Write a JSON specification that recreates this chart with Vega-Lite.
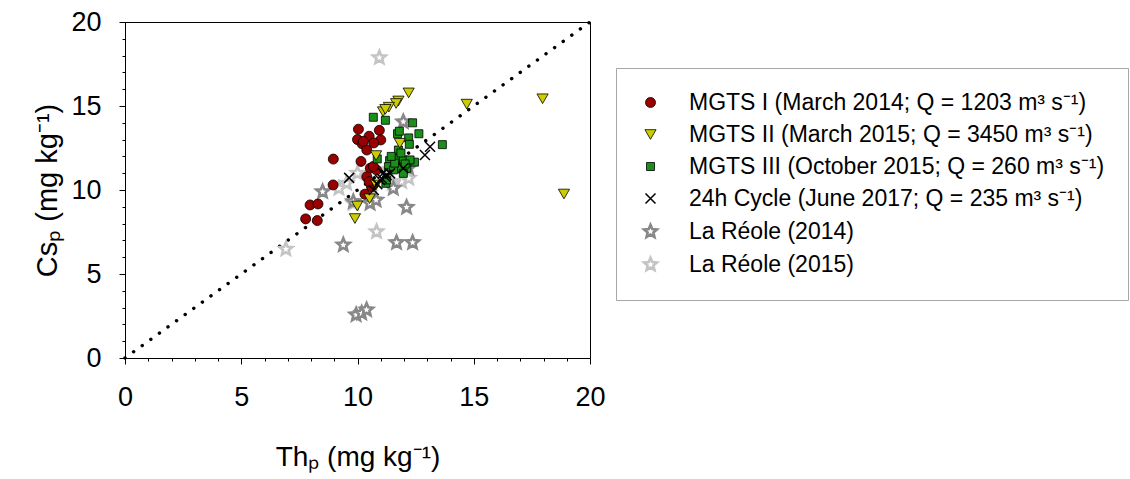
{
  "$schema": "https://vega.github.io/schema/vega-lite/v6.json",
  "width": 465,
  "height": 336,
  "autosize": {"type": "none"},
  "padding": {"left": 125, "top": 22, "right": 540, "bottom": 121},
  "background": "white",
  "config": {
    "view": {"stroke": "#000000", "strokeWidth": 1},
    "font": "Liberation Sans",
    "axis": {"grid": false, "labelFlush": false, "labelOverlap": false, "domainColor": "#000000", "tickColor": "#000000", "labelColor": "#000000", "titleColor": "#000000", "labelFont": "Liberation Sans", "titleFont": "Liberation Sans", "titleFontWeight": "normal"}
  },
  "datasets": {
    "diag": [{"x": 0, "y": 0, "x2": 20, "y2": 20}]
  },
  "resolve": {"axis": {"x": "independent", "y": "independent"}},
  "layer": [
    {
      "data": {"name": "diag"},
      "mark": {"type": "rule", "strokeDash": [0.1, 10.5], "strokeCap": "round", "strokeWidth": 3.4, "color": "#000000"},
      "encoding": {
        "x": {"field": "x", "type": "quantitative", "scale": {"domain": [0, 20], "nice": false, "zero": false},
          "axis": {"orient": "bottom", "values": [0,1,2,3,4,5,6,7,8,9,10,11,12,13,14,15,16,17,18,19,20], "labels": false, "tickSize": 3, "title": null, "domain": false}},
        "y": {"field": "y", "type": "quantitative", "scale": {"domain": [0, 20], "nice": false, "zero": false},
          "axis": {"orient": "left", "values": [0,1,2,3,4,5,6,7,8,9,10,11,12,13,14,15,16,17,18,19,20], "labels": false, "tickSize": 3, "title": null, "domain": false}},
        "x2": {"field": "x2"},
        "y2": {"field": "y2"}
      }
    },
    {
      "data": {"values": [
        {"s": "La Réole (2015)", "th": 10.94, "cs": 17.88},
        {"s": "La Réole (2015)", "th": 6.92, "cs": 6.48},
        {"s": "La Réole (2015)", "th": 10.82, "cs": 7.52},
        {"s": "La Réole (2015)", "th": 11.9, "cs": 10.5},
        {"s": "La Réole (2015)", "th": 9.53, "cs": 10.4},
        {"s": "La Réole (2015)", "th": 9.82, "cs": 9.21},
        {"s": "La Réole (2015)", "th": 10.0, "cs": 11.0},
        {"s": "La Réole (2015)", "th": 11.5, "cs": 10.4},
        {"s": "La Réole (2015)", "th": 12.2, "cs": 10.7},
        {"s": "La Réole (2015)", "th": 9.2, "cs": 10.1},
        {"s": "La Réole (2015)", "th": 11.3, "cs": 11.2},
        {"s": "La Réole (2015)", "th": 10.5, "cs": 9.8},
        {"s": "La Réole (2014)", "th": 9.94, "cs": 2.57},
        {"s": "La Réole (2014)", "th": 10.18, "cs": 2.67},
        {"s": "La Réole (2014)", "th": 10.39, "cs": 2.87},
        {"s": "La Réole (2014)", "th": 9.39, "cs": 6.73},
        {"s": "La Réole (2014)", "th": 11.68, "cs": 6.87},
        {"s": "La Réole (2014)", "th": 12.37, "cs": 6.87},
        {"s": "La Réole (2014)", "th": 12.11, "cs": 8.97},
        {"s": "La Réole (2014)", "th": 8.5, "cs": 9.9},
        {"s": "La Réole (2014)", "th": 10.54, "cs": 9.21},
        {"s": "La Réole (2014)", "th": 11.54, "cs": 10.1},
        {"s": "La Réole (2014)", "th": 11.97, "cs": 14.06},
        {"s": "La Réole (2014)", "th": 9.82, "cs": 9.31},
        {"s": "La Réole (2014)", "th": 10.8, "cs": 9.4},
        {"s": "La Réole (2014)", "th": 12.2, "cs": 11.3},
        {"s": "MGTS I (March 2014; Q = 1203  m³ s⁻¹)", "th": 7.77, "cs": 8.28},
        {"s": "MGTS I (March 2014; Q = 1203  m³ s⁻¹)", "th": 8.27, "cs": 8.18},
        {"s": "MGTS I (March 2014; Q = 1203  m³ s⁻¹)", "th": 7.96, "cs": 9.11},
        {"s": "MGTS I (March 2014; Q = 1203  m³ s⁻¹)", "th": 8.3, "cs": 9.17},
        {"s": "MGTS I (March 2014; Q = 1203  m³ s⁻¹)", "th": 8.95, "cs": 10.3},
        {"s": "MGTS I (March 2014; Q = 1203  m³ s⁻¹)", "th": 8.96, "cs": 11.84},
        {"s": "MGTS I (March 2014; Q = 1203  m³ s⁻¹)", "th": 10.04, "cs": 13.62},
        {"s": "MGTS I (March 2014; Q = 1203  m³ s⁻¹)", "th": 10.94, "cs": 13.55},
        {"s": "MGTS I (March 2014; Q = 1203  m³ s⁻¹)", "th": 10.5, "cs": 13.2},
        {"s": "MGTS I (March 2014; Q = 1203  m³ s⁻¹)", "th": 10.0, "cs": 13.0},
        {"s": "MGTS I (March 2014; Q = 1203  m³ s⁻¹)", "th": 11.0, "cs": 12.98},
        {"s": "MGTS I (March 2014; Q = 1203  m³ s⁻¹)", "th": 10.2, "cs": 12.75},
        {"s": "MGTS I (March 2014; Q = 1203  m³ s⁻¹)", "th": 10.4, "cs": 12.38},
        {"s": "MGTS I (March 2014; Q = 1203  m³ s⁻¹)", "th": 10.15, "cs": 11.7},
        {"s": "MGTS I (March 2014; Q = 1203  m³ s⁻¹)", "th": 10.55, "cs": 11.3},
        {"s": "MGTS I (March 2014; Q = 1203  m³ s⁻¹)", "th": 10.82, "cs": 11.19},
        {"s": "MGTS I (March 2014; Q = 1203  m³ s⁻¹)", "th": 10.4, "cs": 10.79},
        {"s": "MGTS I (March 2014; Q = 1203  m³ s⁻¹)", "th": 10.68, "cs": 11.4},
        {"s": "MGTS I (March 2014; Q = 1203  m³ s⁻¹)", "th": 10.32, "cs": 9.75},
        {"s": "MGTS I (March 2014; Q = 1203  m³ s⁻¹)", "th": 10.6, "cs": 10.2},
        {"s": "MGTS I (March 2014; Q = 1203  m³ s⁻¹)", "th": 10.25, "cs": 12.9},
        {"s": "MGTS I (March 2014; Q = 1203  m³ s⁻¹)", "th": 10.7, "cs": 12.8},
        {"s": "MGTS I (March 2014; Q = 1203  m³ s⁻¹)", "th": 10.5, "cs": 10.5},
        {"s": "MGTS III (October 2015; Q = 260 m³ s⁻¹)", "th": 10.68, "cs": 14.33},
        {"s": "MGTS III (October 2015; Q = 260 m³ s⁻¹)", "th": 11.2, "cs": 14.15},
        {"s": "MGTS III (October 2015; Q = 260 m³ s⁻¹)", "th": 12.37, "cs": 14.0},
        {"s": "MGTS III (October 2015; Q = 260 m³ s⁻¹)", "th": 11.72, "cs": 13.35},
        {"s": "MGTS III (October 2015; Q = 260 m³ s⁻¹)", "th": 12.2, "cs": 13.1},
        {"s": "MGTS III (October 2015; Q = 260 m³ s⁻¹)", "th": 12.64, "cs": 13.35},
        {"s": "MGTS III (October 2015; Q = 260 m³ s⁻¹)", "th": 11.8, "cs": 13.5},
        {"s": "MGTS III (October 2015; Q = 260 m³ s⁻¹)", "th": 13.65, "cs": 12.7},
        {"s": "MGTS III (October 2015; Q = 260 m³ s⁻¹)", "th": 12.23, "cs": 12.72},
        {"s": "MGTS III (October 2015; Q = 260 m³ s⁻¹)", "th": 10.85, "cs": 11.85},
        {"s": "MGTS III (October 2015; Q = 260 m³ s⁻¹)", "th": 11.22, "cs": 10.4},
        {"s": "MGTS III (October 2015; Q = 260 m³ s⁻¹)", "th": 12.45, "cs": 11.66},
        {"s": "MGTS III (October 2015; Q = 260 m³ s⁻¹)", "th": 11.38, "cs": 11.75},
        {"s": "MGTS III (October 2015; Q = 260 m³ s⁻¹)", "th": 11.7, "cs": 11.89},
        {"s": "MGTS III (October 2015; Q = 260 m³ s⁻¹)", "th": 11.97, "cs": 11.79},
        {"s": "MGTS III (October 2015; Q = 260 m³ s⁻¹)", "th": 12.26, "cs": 11.79},
        {"s": "MGTS III (October 2015; Q = 260 m³ s⁻¹)", "th": 11.33, "cs": 11.39},
        {"s": "MGTS III (October 2015; Q = 260 m³ s⁻¹)", "th": 11.83, "cs": 11.35},
        {"s": "MGTS III (October 2015; Q = 260 m³ s⁻¹)", "th": 12.12, "cs": 11.29},
        {"s": "MGTS III (October 2015; Q = 260 m³ s⁻¹)", "th": 11.76, "cs": 12.38},
        {"s": "MGTS III (October 2015; Q = 260 m³ s⁻¹)", "th": 11.25, "cs": 10.6},
        {"s": "MGTS III (October 2015; Q = 260 m³ s⁻¹)", "th": 11.97, "cs": 10.99},
        {"s": "MGTS III (October 2015; Q = 260 m³ s⁻¹)", "th": 11.55, "cs": 11.2},
        {"s": "MGTS III (October 2015; Q = 260 m³ s⁻¹)", "th": 11.87, "cs": 12.2},
        {"s": "MGTS III (October 2015; Q = 260 m³ s⁻¹)", "th": 12.05, "cs": 11.55},
        {"s": "MGTS III (October 2015; Q = 260 m³ s⁻¹)", "th": 11.6, "cs": 11.6},
        {"s": "MGTS III (October 2015; Q = 260 m³ s⁻¹)", "th": 11.45, "cs": 12.0},
        {"s": "MGTS II (March 2015; Q = 3450  m³ s⁻¹)", "th": 12.2, "cs": 15.78},
        {"s": "MGTS II (March 2015; Q = 3450  m³ s⁻¹)", "th": 11.76, "cs": 15.3},
        {"s": "MGTS II (March 2015; Q = 3450  m³ s⁻¹)", "th": 11.66, "cs": 15.15},
        {"s": "MGTS II (March 2015; Q = 3450  m³ s⁻¹)", "th": 11.35, "cs": 14.93},
        {"s": "MGTS II (March 2015; Q = 3450  m³ s⁻¹)", "th": 11.1, "cs": 14.66},
        {"s": "MGTS II (March 2015; Q = 3450  m³ s⁻¹)", "th": 14.7, "cs": 15.11},
        {"s": "MGTS II (March 2015; Q = 3450  m³ s⁻¹)", "th": 17.96, "cs": 15.43},
        {"s": "MGTS II (March 2015; Q = 3450  m³ s⁻¹)", "th": 18.88, "cs": 9.76},
        {"s": "MGTS II (March 2015; Q = 3450  m³ s⁻¹)", "th": 11.82, "cs": 12.78},
        {"s": "MGTS II (March 2015; Q = 3450  m³ s⁻¹)", "th": 10.8, "cs": 12.05},
        {"s": "MGTS II (March 2015; Q = 3450  m³ s⁻¹)", "th": 10.8, "cs": 10.3},
        {"s": "MGTS II (March 2015; Q = 3450  m³ s⁻¹)", "th": 10.52, "cs": 9.48},
        {"s": "MGTS II (March 2015; Q = 3450  m³ s⁻¹)", "th": 9.99, "cs": 9.05},
        {"s": "MGTS II (March 2015; Q = 3450  m³ s⁻¹)", "th": 9.89, "cs": 8.3},
        {"s": "MGTS II (March 2015; Q = 3450  m³ s⁻¹)", "th": 11.2, "cs": 14.8},
        {"s": "24h Cycle (June 2017; Q = 235 m³ s⁻¹)", "th": 9.64, "cs": 10.72},
        {"s": "24h Cycle (June 2017; Q = 235 m³ s⁻¹)", "th": 10.7, "cs": 10.0},
        {"s": "24h Cycle (June 2017; Q = 235 m³ s⁻¹)", "th": 10.85, "cs": 10.35},
        {"s": "24h Cycle (June 2017; Q = 235 m³ s⁻¹)", "th": 11.04, "cs": 10.69},
        {"s": "24h Cycle (June 2017; Q = 235 m³ s⁻¹)", "th": 10.97, "cs": 10.6},
        {"s": "24h Cycle (June 2017; Q = 235 m³ s⁻¹)", "th": 11.25, "cs": 10.89},
        {"s": "24h Cycle (June 2017; Q = 235 m³ s⁻¹)", "th": 11.4, "cs": 10.99},
        {"s": "24h Cycle (June 2017; Q = 235 m³ s⁻¹)", "th": 11.2, "cs": 10.8},
        {"s": "24h Cycle (June 2017; Q = 235 m³ s⁻¹)", "th": 11.97, "cs": 11.29},
        {"s": "24h Cycle (June 2017; Q = 235 m³ s⁻¹)", "th": 12.9, "cs": 12.08},
        {"s": "24h Cycle (June 2017; Q = 235 m³ s⁻¹)", "th": 13.12, "cs": 12.58},
        {"s": "24h Cycle (June 2017; Q = 235 m³ s⁻¹)", "th": 11.1, "cs": 11.0}
      ]},
      "mark": {"type": "point", "filled": true, "opacity": 1},
      "encoding": {
        "x": {"field": "th", "type": "quantitative", "scale": {"domain": [0, 20], "nice": false, "zero": false},
          "axis": {"orient": "bottom", "values": [0, 5, 10, 15, 20], "tickSize": 6, "labelFontSize": 27, "labelPadding": 20, "title": "Thₚ (mg kg⁻¹)", "titleFontSize": 28, "titlePadding": 33}},
        "y": {"field": "cs", "type": "quantitative", "scale": {"domain": [0, 20], "nice": false, "zero": false},
          "axis": {"orient": "left", "values": [0, 5, 10, 15, 20], "tickSize": 6, "labelFontSize": 27, "labelPadding": 18, "title": "Csₚ (mg kg⁻¹)", "titleFontSize": 29, "titlePadding": 8}},
        "shape": {"field": "s", "type": "nominal",
          "scale": {"domain": ["MGTS I (March 2014; Q = 1203  m³ s⁻¹)", "MGTS II (March 2015; Q = 3450  m³ s⁻¹)", "MGTS III (October 2015; Q = 260 m³ s⁻¹)", "24h Cycle (June 2017; Q = 235 m³ s⁻¹)", "La Réole (2014)", "La Réole (2015)"],
            "range": ["circle", "triangle-down", "square", "M-1,-1L1,1M-1,1L1,-1", "M0,-1L0.265,-0.364L0.951,-0.309L0.428,0.139L0.588,0.809L0,0.45L-0.588,0.809L-0.428,0.139L-0.951,-0.309L-0.265,-0.364Z", "M0,-1L0.265,-0.364L0.951,-0.309L0.428,0.139L0.588,0.809L0,0.45L-0.588,0.809L-0.428,0.139L-0.951,-0.309L-0.265,-0.364Z"]},
          "legend": {"title": null, "orient": "none", "legendX": 491, "legendY": 46, "direction": "vertical", "padding": 23, "rowPadding": 8, "labelOffset": 27, "labelFontSize": 23, "labelFont": "Liberation Sans", "labelColor": "#000000", "labelLimit": 700, "strokeColor": "#a6a6a6", "fillColor": "#ffffff"}},
        "fill": {"field": "s", "type": "nominal",
          "scale": {"domain": ["MGTS I (March 2014; Q = 1203  m³ s⁻¹)", "MGTS II (March 2015; Q = 3450  m³ s⁻¹)", "MGTS III (October 2015; Q = 260 m³ s⁻¹)", "24h Cycle (June 2017; Q = 235 m³ s⁻¹)", "La Réole (2014)", "La Réole (2015)"],
            "range": ["#990000", "#cccc00", "#1a8f1a", "transparent", "#ffffff", "#ffffff"]},
          "legend": {"title": null}},
        "stroke": {"field": "s", "type": "nominal",
          "scale": {"domain": ["MGTS I (March 2014; Q = 1203  m³ s⁻¹)", "MGTS II (March 2015; Q = 3450  m³ s⁻¹)", "MGTS III (October 2015; Q = 260 m³ s⁻¹)", "24h Cycle (June 2017; Q = 235 m³ s⁻¹)", "La Réole (2014)", "La Réole (2015)"],
            "range": ["#000000", "#000000", "#000000", "#000000", "#888888", "#c4c4c4"]},
          "legend": {"title": null}},
        "size": {"field": "s", "type": "nominal",
          "scale": {"type": "ordinal", "domain": ["MGTS I (March 2014; Q = 1203  m³ s⁻¹)", "MGTS II (March 2015; Q = 3450  m³ s⁻¹)", "MGTS III (October 2015; Q = 260 m³ s⁻¹)", "24h Cycle (June 2017; Q = 235 m³ s⁻¹)", "La Réole (2014)", "La Réole (2015)"],
            "range": [100, 125, 64, 100, 180, 180]},
          "legend": {"title": null}},
        "strokeWidth": {"field": "s", "type": "nominal",
          "scale": {"type": "ordinal", "domain": ["MGTS I (March 2014; Q = 1203  m³ s⁻¹)", "MGTS II (March 2015; Q = 3450  m³ s⁻¹)", "MGTS III (October 2015; Q = 260 m³ s⁻¹)", "24h Cycle (June 2017; Q = 235 m³ s⁻¹)", "La Réole (2014)", "La Réole (2015)"],
            "range": [0.8, 0.8, 0.8, 1.5, 2.6, 2.6]},
          "legend": {"title": null}}
      }
    }
  ]
}
